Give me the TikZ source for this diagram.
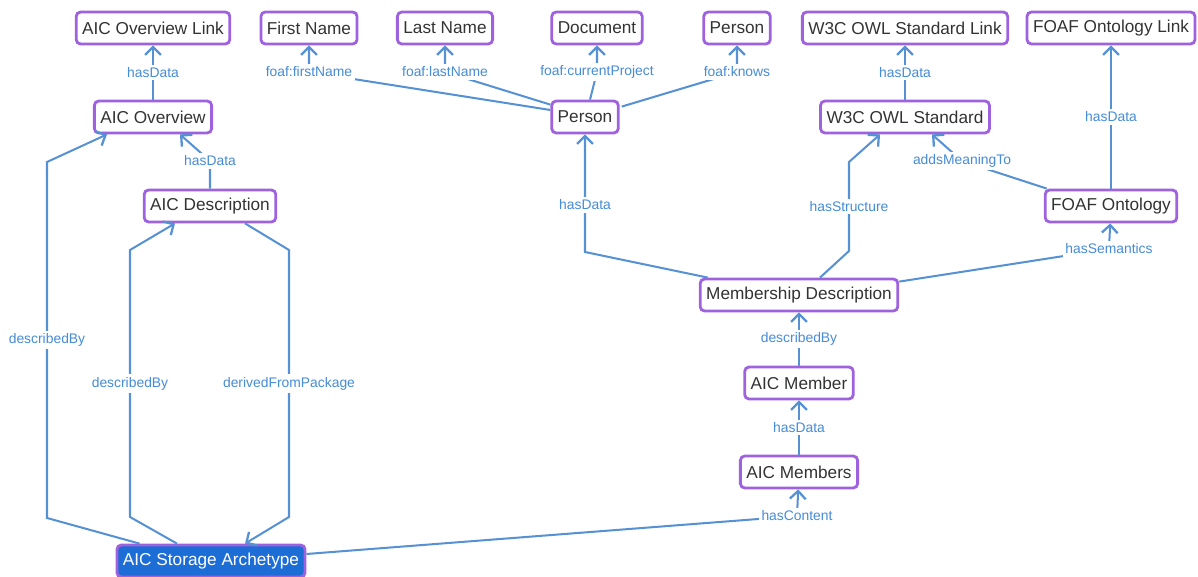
\documentclass[tikz,border=0pt]{standalone}
\usepackage{fontspec}
\setmainfont{Liberation Sans}
\usetikzlibrary{arrows.meta, positioning, calc}
\definecolor{boxpurple}{RGB}{158,98,222}
\definecolor{linkblue}{RGB}{86,145,212}
\definecolor{lblblue}{RGB}{70,140,215}
\definecolor{rootblue}{RGB}{28,110,214}
\definecolor{txtgray}{RGB}{51,51,51}

\begin{document}
\begin{tikzpicture}[
  x=0.02cm, y=-0.02cm,
  ent/.style={rectangle, rounded corners=2.5pt, draw=boxpurple, line width=1.6pt, fill=white,
              minimum height=0.64cm, inner xsep=0.12cm, text=txtgray,
              font=\fontsize{9.8}{11}\selectfont},
  root/.style={ent, fill=rootblue, text=white},
  rel/.style={-{Straight Barb[length=4.5pt, width=9pt, line width=1.3pt]}, line width=1.15pt, color=linkblue},
  lbl/.style={fill=white, inner sep=1.5pt, text=lblblue, font=\fontsize{7.9}{9}\selectfont}
]
  \useasboundingbox (0,0) rectangle (1198,577);

  % top row
  \node[ent] (ovlink)   at (153,28)  {AIC Overview Link};
  \node[ent] (fname)    at (309,28)  {First Name};
  \node[ent] (lname)    at (445,28)  {Last Name};
  \node[ent] (doc)      at (597,28)  {Document};
  \node[ent] (knows)    at (737,28)  {Person};
  \node[ent] (owllink)  at (905,28)  {W3C OWL Standard Link};
  \node[ent] (foaflink) at (1111,28) {FOAF Ontology Link};

  % second row
  \node[ent] (ov)     at (153,117) {AIC Overview};
  \node[ent] (person) at (585,117) {Person};
  \node[ent] (owl)    at (905,117) {W3C OWL Standard};

  \node[ent] (desc) at (210,206)  {AIC Description};
  \node[ent] (foaf) at (1111,206) {FOAF Ontology};

  \node[ent] (mdesc)   at (799,295) {Membership Description};
  \node[ent] (member)  at (799,383) {AIC Member};
  \node[ent] (members) at (799,472) {AIC Members};
  \node[root] (store)  at (211,561) {AIC Storage Archetype};

  % bends
  \coordinate (b1) at (210,161);
  \coordinate (b2a) at (47,518);
  \coordinate (b2b) at (47,162);
  \coordinate (b3a) at (130,517);
  \coordinate (b3b) at (130,250);
  \coordinate (b4a) at (289,250);
  \coordinate (b4b) at (289,517);
  \coordinate (b5) at (797,516);
  \coordinate (b6) at (585,252);
  \coordinate (b7a) at (849,251);
  \coordinate (b7b) at (849,162);
  \coordinate (b8) at (1109,249);
  \coordinate (b9) at (962,161);
  \coordinate (f1) at (309,72);
  \coordinate (f2) at (445,72);
  \coordinate (f3) at (597,72);
  \coordinate (f4) at (737,72);

  \draw[rel] (ov) -- node[lbl] {hasData} (ovlink);
  \draw[rel] (desc.north) -- (b1) node[lbl] {hasData} -- (ov.south -| 180,0);
  \draw[rel] (store.north west) ++(24,0) -- (b2a) -- node[lbl] {describedBy} (b2b) -- (ov.south -| 107,0);
  \draw[rel] (store.north) ++(-34,0) -- (b3a) -- node[lbl, pos=0.5] {describedBy} (b3b) -- (desc.south -| 175,0);
  \draw[rel] (desc.south -| 245,0) -- (b4a) -- node[lbl, pos=0.5] {derivedFromPackage} (b4b) -- (store.north -| 245,0);
  \draw[rel] (store.east) ++(0,-7) -- (b5) node[lbl] {hasContent} -- (members);
  \draw[rel] (members) -- node[lbl] {hasData} (member);
  \draw[rel] (member) -- node[lbl] {describedBy} (mdesc);
  \draw[rel] (mdesc.north west) ++(9,0) -- (b6) -- node[lbl, pos=0.4] {hasData} (person);
  \draw[rel] (mdesc.north -| 820,0) -- (b7a) -- node[lbl] {hasStructure} (b7b) -- (owl.south -| 880,0);
  \draw[rel] (mdesc.north east) ++(0,4) -- (b8) node[lbl] {hasSemantics} -- (foaf);
  \draw[rel] (foaf.north west) ++(3,0) -- (b9) node[lbl] {addsMeaningTo} -- (owl.south -| 932,0);
  \draw[rel] (foaf) -- node[lbl] {hasData} (foaflink);
  \draw[rel] (owl) -- node[lbl] {hasData} (owllink);
  \draw[rel] (person.west) ++(0,-7) -- (f1) node[lbl] {foaf:firstName} -- (fname);
  \draw[rel] (person.north west) ++(0,5) -- (f2) node[lbl] {foaf:lastName} -- (lname);
  \draw[rel] (person.north) ++(5,0) -- (f3) node[lbl] {foaf:currentProject} -- (doc);
  \draw[rel] (person.north east) ++(2,7) -- (f4) node[lbl] {foaf:knows} -- (knows);
\end{tikzpicture}
\end{document}
